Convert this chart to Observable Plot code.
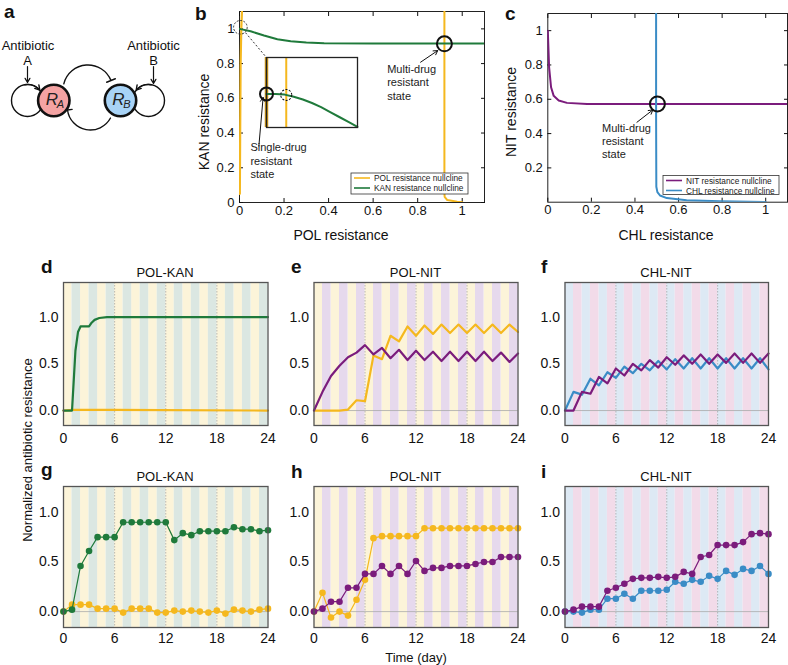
<!DOCTYPE html>
<html><head><meta charset="utf-8">
<script src="https://cdn.jsdelivr.net/npm/d3@7"></script>
<script src="https://cdn.jsdelivr.net/npm/@observablehq/plot@0.6"></script>
<style>
body{margin:0;background:#fff;}
#root{position:relative;width:788px;height:665px;overflow:hidden;font-family:"Liberation Sans",Arial,Helvetica,sans-serif;}
</style></head><body><div id="root"></div>
<script>
// ---------- data ----------
const days = [0,1,2,3,4,5,6,7,8,9,10,11,12,13,14,15,16,17,18,19,20,21,22,23,24];
const evenDays = [0,2,4,6,8,10,12,14,16,18,20,22];
const oddDays = [1,3,5,7,9,11,13,15,17,19,21,23];
const gridDays = [6,12,18];
const dayTicks = [0,6,12,18,24];
const resTicks = [0,0.5,1];
const nullTicks = [0,0.2,0.4,0.6,0.8,1];
const nullTicksC = [0.2,0.4,0.6,0.8,1];

// b: POL-KAN nullclines
const polXL = [0.0015,0.003,0.005,0.008,0.011];
const polYL = [0.05,0.4,0.8,1.0,1.1];
const polXR = [0.92,0.92,0.921,0.933,0.977,1.0];
const polYR = [1.1,0.06,0.033,0.014,0.005,0.002];
const kanX = [0,0.05,0.11,0.17,0.23,0.3,0.38,0.6,1.1];
const kanY = [1.0,0.986,0.962,0.94,0.929,0.921,0.917,0.916,0.916];
// inset of b
const insetX = [0,0.001,0.002,0.003,0.004,0.005,0.006,0.007,0.008,0.009,0.01];
const insetKAN = [0.99688,0.99688,0.99682,0.99664,0.9964,0.9961,0.99574,0.99532,0.9949,0.99448,0.99406];
const insetPOL = [0, 0.00217];
// c: CHL-NIT nullclines
const nitX = [0,0.006,0.015,0.027,0.05,0.088,0.18,0.5,1.1];
const nitY = [1.0,0.786,0.67,0.62,0.593,0.579,0.573,0.572,0.572];
const chlX = [0.497,0.497,0.498,0.503,0.515,0.546,0.637,0.79,1.0];
const chlY = [1.1,0.5,0.09,0.059,0.039,0.024,0.011,0.005,0.001];

// d-f simulations
const dKanT = [0,1,1.2,1.4,1.7,2,3,3.3,3.65,4.2,5.1,24];
const dKan = [0,0,0.32,0.64,0.84,0.9,0.9,0.94,0.97,0.99,1.0,1.0];
const dPolT = [0,1,6,24];
const dPol = [0,0.008,0.008,0.0];
const ePOL = [0,0,0,0,0.01,0.11,0.10,0.59,0.55,0.80,0.74,0.90,0.80,0.91,0.82,0.92,0.83,0.92,0.83,0.92,0.83,0.92,0.83,0.92,0.84];
const eNIT = [0,0.2,0.37,0.48,0.57,0.62,0.70,0.60,0.67,0.56,0.65,0.54,0.64,0.54,0.63,0.53,0.63,0.53,0.63,0.53,0.63,0.53,0.62,0.52,0.61];
const fNIT = [0,0,0.2,0.18,0.36,0.29,0.45,0.375,0.5,0.43,0.54,0.46,0.57,0.49,0.59,0.5,0.6,0.5,0.6,0.51,0.61,0.51,0.61,0.51,0.61];
const fCHL = [0,0.2,0.17,0.34,0.27,0.41,0.35,0.47,0.40,0.50,0.43,0.53,0.44,0.55,0.45,0.56,0.45,0.56,0.45,0.56,0.45,0.56,0.45,0.56,0.44];
// g-i experiments
const gKAN = [0,0.02,0.46,0.61,0.75,0.75,0.75,0.90,0.90,0.90,0.90,0.90,0.90,0.72,0.79,0.77,0.81,0.81,0.81,0.81,0.85,0.83,0.83,0.81,0.82];
const gPOL = [0,0.07,0.07,0.07,0.03,0.03,0.03,-0.01,0.03,0.03,0.03,-0.01,-0.01,0.01,0.0,0.01,0.0,-0.01,0.01,-0.02,0.02,0.01,0.0,0.02,0.03];
const hPOL = [0,0.19,-0.06,0.0,-0.04,0.12,0.32,0.74,0.76,0.76,0.76,0.76,0.76,0.84,0.84,0.84,0.84,0.84,0.84,0.84,0.84,0.84,0.84,0.84,0.84];
const hNIT = [0,0.03,0.10,0.10,0.24,0.24,0.38,0.38,0.46,0.38,0.46,0.38,0.51,0.41,0.44,0.44,0.46,0.46,0.46,0.48,0.50,0.50,0.55,0.55,0.55];
const iNIT = [0,0.02,0.05,0.05,0.05,0.21,0.24,0.28,0.33,0.34,0.34,0.35,0.34,0.35,0.40,0.38,0.55,0.57,0.67,0.67,0.67,0.70,0.78,0.79,0.78];
const iCHL = [0,0.0,-0.01,0.02,0.02,0.13,0.13,0.18,0.13,0.21,0.21,0.21,0.22,0.30,0.28,0.32,0.30,0.36,0.33,0.41,0.37,0.43,0.41,0.46,0.38];

// ---------- style ----------
const FONT = "Liberation Sans, Arial, Helvetica, sans-serif";
const C = {green:"#1f7a3b", yellow:"#f5b81e", purple:"#7b1c7c", blue:"#3a8cc6",
  cream:"#fcf4d9", teal:"#dbe7e2", lav:"#e6d9ed", lblue:"#dde9f4", pink:"#f2dbe9"};
const root = document.getElementById("root");
function place(el, left, top, bg) {
  el.style.position = "absolute"; el.style.left = left + "px"; el.style.top = top + "px";
  el.style.maxWidth = "none";
  if (bg) el.style.background = bg;
  root.appendChild(el); return el;
}
const baseStyle = {background:"transparent", overflow:"visible", fontFamily: FONT, color:"#111"};

// ---------- panel a (diagram) ----------
const nodes = [{k:"A", fill:"#f4a3a3"}, {k:"B", fill:"#a8d3f6"}];
const nodePos = {A:[53.3,100], B:[120,100]};
const loopPos = [[27,100],[148,100]];
{
  const N = nodes.map(d => ({...d, x: nodePos[d.k][0], y: nodePos[d.k][1]}));
  const pa = Plot.plot({
    width:190, height:140, margin:0, style: baseStyle,
    x:{domain:[0,190], range:[0,190], axis:null},
    y:{domain:[0,140], range:[0,140], axis:null},
    color:{type:"identity"},
    marks:[
      Plot.dot(loopPos, {x: d=>d[0], y: d=>d[1], r:16, stroke:"#111", strokeWidth:1.4, fill:"none"}),
      Plot.arrow([[24.2,84.2,39.3,89.7]], {x1:d=>d[0], y1:d=>d[1], x2:d=>d[2], y2:d=>d[3], bend:30, strokeWidth:1.4, headLength:6}),
      Plot.arrow([[150.8,84.2,135.7,89.7]], {x1:d=>d[0], y1:d=>d[1], x2:d=>d[2], y2:d=>d[3], bend:-30, strokeWidth:1.4, headLength:6}),
      Plot.arrow([[63.3,83.3,110.5,80]], {x1:d=>d[0], y1:d=>d[1], x2:d=>d[2], y2:d=>d[3], bend:72, strokeWidth:1.4, headAngle:180, headLength:5}),
      Plot.arrow([[110,117.5,67,109.5]], {x1:d=>d[0], y1:d=>d[1], x2:d=>d[2], y2:d=>d[3], bend:72, strokeWidth:1.4, headAngle:180, headLength:5}),
      Plot.arrow([[27,66,27,82],[153,66,153,83]], {x1:d=>d[0], y1:d=>d[1], x2:d=>d[2], y2:d=>d[3], strokeWidth:1.2, headLength:6}),
      Plot.dot(N, {x:"x", y:"y", r:15.7, fill:"fill", stroke:"#111", strokeWidth:2.6}),
      Plot.text(N, {x: d=>d.x-2, y: d=>d.y-1, text: () => "R", fontSize:17, fontStyle:"italic", fill:"#222"}),
      Plot.text(N, {x: d=>d.x+6.5, y: d=>d.y+4, text: d => d.k, fontSize:11, fontStyle:"italic", fill:"#222"}),
      Plot.text(["Antibiotic","Antibiotic"], {x:[27.5,153], y:[45,45], text: d=>d, fontSize:13}),
      Plot.text(["A","B"], {x:[27,153], y:[60,60], text: d=>d, fontSize:13})
    ]
  });
  place(pa, 0, 0);
}

// ---------- panel b ----------
const bStates = [{x:0.92, y:0.914}];
const bZoomMark = [{x:0.004, y:1.009}];
const bAnn = [
  {x:0.296, y:0.703, t:"Unstable\nsteady\nstate"},
  {x:0.049, y:0.243, t:"Single-drug\nresistant\nstate"},
  {x:0.663, y:0.693, t:"Multi-drug\nresistant\nstate"}
];
const bArrows = [
  {x1:0.282, y1:0.693, x2:0.237, y2:0.641},
  {x1:0.087, y1:0.325, x2:0.106, y2:0.605},
  {x1:0.813, y1:0.808, x2:0.89, y2:0.875}
];
{
  const pb = Plot.plot({
    width:300, height:250, marginLeft:49, marginRight:6, marginTop:11, marginBottom:48,
    style: baseStyle, x:{domain:[0,1.1]}, y:{domain:[0,1.1]},
    marks:[
      Plot.frame({stroke:"#222", strokeWidth:1}),
      Plot.axisX({ticks:nullTicks, tickFormat:d=>String(d), tickSize:-4, tickPadding:7, fontSize:13, label:null}),
      Plot.axisX({anchor:"top", ticks:nullTicks, tickFormat:()=>"", tickSize:-4, label:null}),
      Plot.axisY({ticks:nullTicks, tickFormat:d=>String(d), tickSize:-4, tickPadding:9, fontSize:13, label:null}),
      Plot.axisY({anchor:"right", ticks:nullTicks, tickFormat:()=>"", tickSize:-4, label:null}),
      Plot.line(polXL, {x:polXL, y:polYL, stroke:C.yellow, strokeWidth:2.2, clip:true}),
      Plot.line(polXR, {x:polXR, y:polYR, stroke:C.yellow, strokeWidth:2, clip:true}),
      Plot.line(kanX, {x:kanX, y:kanY, stroke:C.green, strokeWidth:2, clip:true}),
      Plot.dot(bStates, {x:"x", y:"y", r:7.5, stroke:"#111", strokeWidth:2}),
      Plot.dot(bZoomMark, {x:"x", y:"y", r:6.8, stroke:"#333", strokeWidth:1, strokeDasharray:"2,1.5"}),
      Plot.link([{x1:0.027, y1:0.978, x2:0.121, y2:0.835}], {x1:"x1", y1:"y1", x2:"x2", y2:"y2", stroke:"#333", strokeDasharray:"2,2"}),
      Plot.text(bAnn, {x:"x", y:"y", text:"t", textAnchor:"start", fontSize:11, lineHeight:1.2, fill:"#222"}),
      Plot.arrow(bArrows, {x1:"x1", y1:"y1", x2:"x2", y2:"y2", strokeWidth:1, headLength:7, stroke:"#111"})
    ]
  });
  place(pb, 190, 0);
  // inset
  const pin = Plot.plot({
    width:91, height:70, margin:0, style:{...baseStyle, background:"#fff"},
    x:{domain:[0,0.01], axis:null}, y:{domain:[0.994,1.0], axis:null},
    marks:[
      Plot.ruleX([insetPOL[0]], {stroke:"#c99418", strokeWidth:3.5}),
      Plot.ruleX([insetPOL[1]], {stroke:C.yellow, strokeWidth:2}),
      Plot.line(insetX, {x:insetX, y:insetKAN, stroke:C.green, strokeWidth:2}),
      Plot.frame({stroke:"#222", strokeWidth:1.3}),
      Plot.dot([{x:insetPOL[0], y:0.99688}], {x:"x", y:"y", r:6.5, stroke:"#111", strokeWidth:2}),
      Plot.dot([{x:insetPOL[1], y:0.99679}], {x:"x", y:"y", r:5.5, stroke:"#111", strokeWidth:1.1, strokeDasharray:"2,1.5"})
    ]
  });
  place(pin, 266, 57);
}

// ---------- panel c ----------
const cStates = [{x:0.503, y:0.573}];
const cAnn = [{x:0.249, y:0.359, t:"Multi-drug\nresistant\nstate"}];
const cArrows = [{x1:0.409, y1:0.466, x2:0.482, y2:0.538}];
{
  const pc = Plot.plot({
    width:288, height:250, marginLeft:47.3, marginRight:1, marginTop:13, marginBottom:48.3,
    style: baseStyle, x:{domain:[0,1.1]}, y:{domain:[0,1.1]},
    marks:[
      Plot.frame({stroke:"#222", strokeWidth:1}),
      Plot.axisX({ticks:nullTicks, tickFormat:d=>String(d), tickSize:-4, tickPadding:7, fontSize:13, label:null}),
      Plot.axisX({anchor:"top", ticks:nullTicks, tickFormat:()=>"", tickSize:-4, label:null}),
      Plot.axisY({ticks:nullTicksC, tickFormat:d=>String(d), tickSize:-4, tickPadding:9, fontSize:13, label:null}),
      Plot.axisY({anchor:"right", ticks:nullTicksC, tickFormat:()=>"", tickSize:-4, label:null}),
      Plot.line(nitX, {x:nitX, y:nitY, stroke:C.purple, strokeWidth:2, clip:true}),
      Plot.line(chlX, {x:chlX, y:chlY, stroke:C.blue, strokeWidth:2, clip:true}),
      Plot.dot(cStates, {x:"x", y:"y", r:7.5, stroke:"#111", strokeWidth:2}),
      Plot.text(cAnn, {x:"x", y:"y", text:"t", textAnchor:"start", fontSize:11, lineHeight:1.2, fill:"#222"}),
      Plot.arrow(cArrows, {x1:"x1", y1:"y1", x2:"x2", y2:"y2", strokeWidth:1, headLength:7, stroke:"#111"})
    ]
  });
  place(pc, 500, 0);
}

// ---------- panels d-i ----------
function tsPanel({left, top, width, mL, mR, row, bg, lines, dotted}) {
  const mT = 20, height = 195;
  const mB = row === 1 ? 32 : 34;
  const yDomain = row === 1 ? [-0.16, 1.37] : [-0.16, 1.26];
  const marks = [
    Plot.rect(evenDays, {x1:d=>d, x2:d=>d+1, fill:bg[0]}),
    Plot.rect(oddDays, {x1:d=>d, x2:d=>d+1, fill:bg[1]}),
    Plot.ruleX(gridDays, {stroke:"#888", strokeOpacity:0.7, strokeWidth:0.8, strokeDasharray:"1.5,1.5"}),
    Plot.ruleY([0], {stroke:"#aaa", strokeWidth:0.8})
  ];
  for (const L of lines) {
    marks.push(Plot.line(L.t, {x:L.t, y:L.v, stroke:L.c, strokeWidth: dotted ? 1.2 : 2.2}));
    if (dotted) marks.push(Plot.dot(L.t, {x:L.t, y:L.v, fill:L.c, r:3.3}));
  }
  marks.push(
    Plot.frame({stroke:"#555", strokeWidth:1.3}),
    Plot.axisX({ticks:dayTicks, tickSize:0, tickPadding: row === 1 ? 8 : 6, fontSize:14, label:null}),
    Plot.axisY({ticks:resTicks, tickSize:0, tickPadding:5, tickFormat:d3.format(".1f"), fontSize:14, label:null})
  );
  const p = Plot.plot({width, height, marginLeft:mL, marginRight:mR, marginTop:mT, marginBottom:mB,
    style: baseStyle, x:{domain:[0,24]}, y:{domain:yDomain}, marks});
  place(p, left, top);
}
const colA = {left:0, width:275, mL:63, mR:7.5};
const colB = {left:250, width:275, mL:63.5, mR:7.5};
const colC = {left:500, width:288, mL:64.5, mR:20};
tsPanel({...colA, top:262, row:1, bg:[C.cream, C.teal], lines:[
  {t:dPolT, v:dPol, c:C.yellow}, {t:dKanT, v:dKan, c:C.green}]});
tsPanel({...colB, top:262, row:1, bg:[C.cream, C.lav], lines:[
  {t:days, v:ePOL, c:C.yellow}, {t:days, v:eNIT, c:C.purple}]});
tsPanel({...colC, top:262, row:1, bg:[C.lblue, C.pink], lines:[
  {t:days, v:fCHL, c:C.blue}, {t:days, v:fNIT, c:C.purple}]});
tsPanel({...colA, top:466, row:2, dotted:true, bg:[C.cream, C.teal], lines:[
  {t:days, v:gPOL, c:C.yellow}, {t:days, v:gKAN, c:C.green}]});
tsPanel({...colB, top:466, row:2, dotted:true, bg:[C.cream, C.lav], lines:[
  {t:days, v:hPOL, c:C.yellow}, {t:days, v:hNIT, c:C.purple}]});
tsPanel({...colC, top:466, row:2, dotted:true, bg:[C.lblue, C.pink], lines:[
  {t:days, v:iCHL, c:C.blue}, {t:days, v:iNIT, c:C.purple}]});

// ---------- text overlay ----------
const ov = d3.select(root).append("svg").attr("width",788).attr("height",665)
  .style("position","absolute").style("left","0px").style("top","0px")
  .attr("font-family", FONT).style("pointer-events","none");
function T(x, y, s, o = {}) {
  const {size=13, anchor="middle", weight="normal", rotate=0, fill="#111"} = o;
  const t = ov.append("text").attr("font-size", size).attr("text-anchor", anchor)
    .attr("font-weight", weight).attr("fill", fill).text(s);
  if (rotate) t.attr("transform", `translate(${x},${y}) rotate(${rotate})`).attr("dy","0.35em");
  else t.attr("x", x).attr("y", y);
}
const letters = [["a",4,18],["b",195,20],["c",505,20],["d",41,273],["e",291,273],["f",541,273],["g",41,476],["h",291,478],["i",541,478]];
for (const [s,x,y] of letters) T(x, y, s, {size:19, weight:"bold", anchor:"start"});
const titles = [["POL-KAN",165,277],["POL-NIT",415.5,277],["CHL-NIT",666,277],["POL-KAN",165,481],["POL-NIT",415.5,481],["CHL-NIT",666,481]];
for (const [s,x,y] of titles) T(x, y, s, {size:13});
T(341, 240, "POL resistance", {size:14});
T(666, 240, "CHL resistance", {size:14});
T(204, 122, "KAN resistance", {size:14, rotate:-90});
T(511, 112, "NIT resistance", {size:14, rotate:-90});
T(27, 450, "Normalized antibiotic resistance", {size:13, rotate:-90});
T(416, 662, "Time (day)", {size:13});
// legends
function legend(x, y, w, h, items) {
  ov.append("rect").attr("x", x).attr("y", y).attr("width", w).attr("height", h)
    .attr("fill", "#fff").attr("stroke", "#333").attr("stroke-width", 0.8);
  items.forEach((it, i) => {
    const yy = y + 5 + i * 10;
    ov.append("line").attr("x1", x + 3).attr("x2", x + 19).attr("y1", yy).attr("y2", yy)
      .attr("stroke", it.c).attr("stroke-width", 1.6);
    ov.append("text").attr("x", x + 23).attr("y", yy + 3).attr("font-size", 8.3).attr("fill", "#222").text(it.s);
  });
}
legend(351, 173, 117, 21, [{c:C.yellow, s:"POL resistance nullcline"}, {c:C.green, s:"KAN resistance nullcline"}]);
legend(663, 175.5, 116, 19, [{c:C.purple, s:"NIT resistance nullcline"}, {c:C.blue, s:"CHL resistance nullcline"}]);
</script></body></html>
